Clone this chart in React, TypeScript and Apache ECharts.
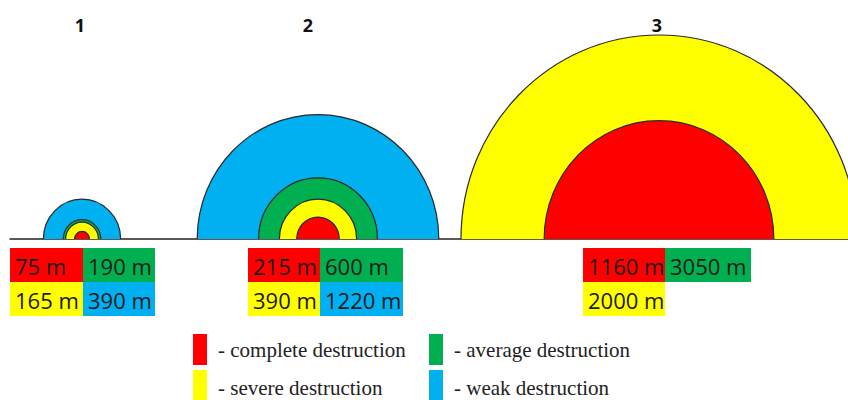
import React, { useEffect, useRef } from "react";
import * as echarts from "echarts";

// ---- data (radii of destruction zones, metres) ----
const GROUPS = ["1", "2", "3"];
const LEVELS = [
  "complete destruction",
  "severe destruction",
  "average destruction",
  "weak destruction",
];
const COMPLETE_M: (number | null)[] = [75, 215, 1160];
const SEVERE_M: (number | null)[] = [165, 390, 2000];
const AVERAGE_M: (number | null)[] = [190, 600, 3050];
const WEAK_M: (number | null)[] = [390, 1220, null];
// which zones are drawn as rings in the figure (group 3's 3050 m zone is not drawn)
const COMPLETE_DRAWN = [true, true, true];
const SEVERE_DRAWN = [true, true, true];
const AVERAGE_DRAWN = [true, true, false];
const WEAK_DRAWN = [true, true, false];

// ---- layout / style ----
const COLORS = ["#ff0000", "#ffff00", "#00b050", "#00b0f0"]; // complete, severe, average, weak
const K_X = 0.099; // px per metre horizontally
const K_Y = 0.102; // px per metre vertically
const BASE_Y = 239;
const GRID_LEFT = 10;
const CENTER_PX = [82, 318, 659];
const TITLE_X = [80, 308, 657];
const BOX_X = [10, 248, 583];
const COL_W = [
  [73, 72],
  [72, 83],
  [82, 86],
];
const ROW_Y = [248, 282];
const ROW_H = 34;
const LEGEND_POS = [
  { x: 193, y: 334 },
  { x: 193, y: 370 },
  { x: 429, y: 334 },
  { x: 429, y: 370 },
];

export default function App() {
  const ref = useRef<HTMLDivElement>(null);

  useEffect(() => {
    if (!ref.current) return;
    const chart = echarts.init(ref.current, undefined, { renderer: "svg" });

    const ringSeries = (
      name: string,
      values: (number | null)[],
      drawn: boolean[],
      color: string
    ) => ({
      type: "custom",
      name,
      clip: true,
      itemStyle: { color },
      data: values
        .map((v, g) => (v != null && drawn[g] ? [g, v] : null))
        .filter((d) => d !== null),
      renderItem: (params: any, api: any) => {
        const g = api.value(0);
        const r = api.value(1);
        const base = api.coord([0, 0])[1];
        const rx = api.size([r, 0])[0];
        const ry = api.size([0, r])[1];
        return {
          type: "ellipse",
          shape: { cx: CENTER_PX[g], cy: base, rx, ry },
          style: { fill: color, stroke: "#2a2a2a", lineWidth: 1.2 },
        };
      },
    });

    // value cells
    const cellGraphics: any[] = [];
    const cellFont = '22px "Open Sans", "Liberation Sans", sans-serif';
    GROUPS.forEach((_, g) => {
      const cells = [
        { row: 0, col: 0, v: COMPLETE_M[g], c: COLORS[0] },
        { row: 0, col: 1, v: AVERAGE_M[g], c: COLORS[2] },
        { row: 1, col: 0, v: SEVERE_M[g], c: COLORS[1] },
        { row: 1, col: 1, v: WEAK_M[g], c: COLORS[3] },
      ];
      cells.forEach((cell) => {
        if (cell.v == null) return;
        const x = BOX_X[g] + (cell.col === 1 ? COL_W[g][0] : 0);
        const y = ROW_Y[cell.row];
        const w = COL_W[g][cell.col];
        cellGraphics.push({
          type: "rect",
          shape: { x, y, width: w, height: ROW_H },
          style: { fill: cell.c },
          z: 10,
        });
        cellGraphics.push({
          type: "text",
          x: x + 5,
          y: y + ROW_H / 2 + 1,
          style: {
            text: `${cell.v} m`,
            font: cellFont,
            fill: "#1a1a1a",
            align: "left",
            verticalAlign: "middle",
            textAlign: "left",
            textVerticalAlign: "middle",
          },
          z: 11,
        });
      });
    });

    const titles = GROUPS.map((t, g) => ({
      type: "text",
      x: TITLE_X[g],
      y: 25,
      style: {
        text: t,
        font: 'bold 18px "Open Sans", "Liberation Sans", sans-serif',
        fill: "#111",
        align: "center",
        verticalAlign: "middle",
        textAlign: "center",
        textVerticalAlign: "middle",
      },
    }));

    const legendGraphics: any[] = [];
    LEVELS.forEach((name, i) => {
      const p = LEGEND_POS[i];
      legendGraphics.push({
        type: "rect",
        shape: { x: p.x, y: p.y, width: 14, height: 31 },
        style: { fill: COLORS[i] },
      });
      legendGraphics.push({
        type: "text",
        x: p.x + 25,
        y: p.y + 16 + (p.y > 340 ? 2 : 0),
        style: {
          text: `- ${name}`,
          font: '21px "Liberation Serif", "Times New Roman", serif',
          fill: "#222",
          align: "left",
          verticalAlign: "middle",
          textAlign: "left",
          textVerticalAlign: "middle",
        },
      });
    });

    chart.setOption({
      animation: false,
      grid: {
        left: GRID_LEFT,
        right: 0,
        top: 0,
        height: BASE_Y,
        containLabel: false,
      },
      xAxis: {
        type: "value",
        min: 0,
        max: (848 - GRID_LEFT) / K_X,
        axisLine: { show: true, lineStyle: { color: "#222", width: 1.5 } },
        axisTick: { show: false },
        axisLabel: { show: false },
        splitLine: { show: false },
      },
      yAxis: {
        type: "value",
        min: 0,
        max: BASE_Y / K_Y,
        show: false,
        splitLine: { show: false },
      },
      series: [
        ringSeries(LEVELS[3], WEAK_M, WEAK_DRAWN, COLORS[3]),
        ringSeries(LEVELS[2], AVERAGE_M, AVERAGE_DRAWN, COLORS[2]),
        ringSeries(LEVELS[1], SEVERE_M, SEVERE_DRAWN, COLORS[1]),
        ringSeries(LEVELS[0], COMPLETE_M, COMPLETE_DRAWN, COLORS[0]),
      ],
      graphic: [...titles, ...cellGraphics, ...legendGraphics],
    });

    return () => chart.dispose();
  }, []);

  return (
    <div
      ref={ref}
      style={{
        position: "fixed",
        left: 0,
        top: 0,
        width: 848,
        height: 400,
        background: "#fff",
      }}
    />
  );
}
